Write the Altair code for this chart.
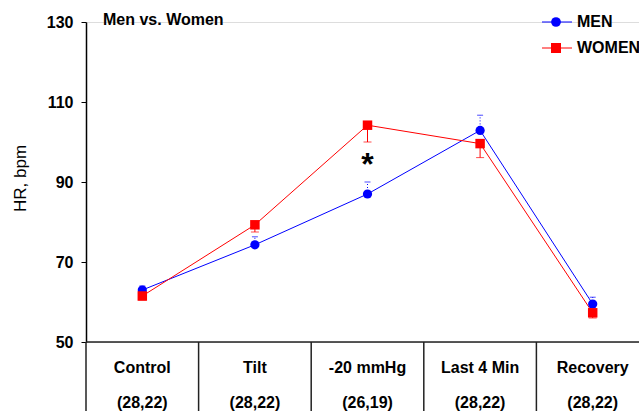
import altair as alt
import pandas as pd

# Heart rate (bpm) by stage of the protocol, men vs. women
categories = ["Control", "Tilt", "-20 mmHg", "Last 4 Min", "Recovery"]
counts = ["(28,22)", "(28,22)", "(26,19)", "(28,22)", "(28,22)"]
men_hr = [63.0, 74.3, 87.0, 102.9, 59.5]
men_se = [1.0, 2.0, 3.0, 3.8, 1.7]
women_hr = [61.5, 79.3, 104.2, 99.6, 57.3]
women_se = [1.0, 1.8, 4.2, 3.5, 1.3]
sig_stage = ["-20 mmHg"]
sig_level = [91.8]

FONT = "Liberation Sans"
BLUE = "#0000ff"
RED = "#ff0000"

idx = list(range(len(categories)))
men = pd.DataFrame({"i": idx, "stage": categories, "hr": men_hr,
                    "hi": [v + e for v, e in zip(men_hr, men_se)]})
women = pd.DataFrame({"i": idx, "stage": categories, "hr": women_hr,
                      "lo": [v - e for v, e in zip(women_hr, women_se)]})
labels = pd.DataFrame({"i": idx, "stage": categories, "n": counts})
bounds = pd.DataFrame({"b": [k - 0.5 for k in range(len(categories) + 1)]})
sig = pd.DataFrame({"i": [categories.index(s) for s in sig_stage], "y": sig_level})

xs = alt.Scale(domain=[-0.5, len(categories) - 0.5], range=[0, 563])
ys = alt.Scale(domain=[50, 130])
X = alt.X("i:Q", scale=xs, axis=None)
Y = alt.Y("hr:Q", scale=ys, axis=alt.Axis(
    values=[50, 70, 90, 110, 130], grid=False, domainColor="black",
    domainWidth=1.5, tickColor="black", tickSize=5, labelPadding=8,
    labelFont=FONT, labelFontSize=16, labelFontWeight="bold", labelColor="black",
    title="HR, bpm", titleFont=FONT, titleFontSize=17, titleFontWeight="normal",
    titleColor="black", titleAngle=-90, titleX=-66, titleY=156,
    titleAlign="center", titleBaseline="middle"))

# frame of the stage table below the plot
base_line = alt.Chart(bounds).mark_rule(color="#222", strokeWidth=1.5).encode(
    x=alt.X("min(b):Q", scale=xs, axis=None), x2="max(b):Q",
    y=alt.value(320))
dividers = alt.Chart(bounds).mark_rule(color="#222", strokeWidth=1.5).encode(
    x=alt.X("b:Q", scale=xs, axis=None), y=alt.value(320), y2=alt.value(389))
stage_txt = alt.Chart(labels).mark_text(
    font=FONT, fontSize=16, fontWeight="bold", color="black", baseline="alphabetic"
).encode(x=X, y=alt.value(351), text="stage:N")
count_txt = alt.Chart(labels).mark_text(
    font=FONT, fontSize=16, fontWeight="bold", color="black", baseline="alphabetic"
).encode(x=X, y=alt.value(386), text="n:N")

# men: dotted upward error bars, line, circles
men_err = alt.Chart(men).mark_rule(color=BLUE, strokeWidth=1, strokeDash=[1, 2]).encode(
    x=X, y=alt.Y("hr:Q", scale=ys), y2="hi:Q")
men_cap = alt.Chart(men).mark_tick(color=BLUE, orient="horizontal", size=6,
                                   thickness=1, strokeDash=[1, 2]).encode(
    x=X, y=alt.Y("hi:Q", scale=ys))
men_line = alt.Chart(men).mark_line(color=BLUE, strokeWidth=1).encode(x=X, y=Y)
men_pts = alt.Chart(men).mark_point(shape="circle", filled=True, opacity=1,
                                    color=BLUE, size=85).encode(x=X, y=alt.Y("hr:Q", scale=ys))

# women: solid downward error bars, line, squares
women_err = alt.Chart(women).mark_rule(color=RED, strokeWidth=1).encode(
    x=X, y=alt.Y("hr:Q", scale=ys), y2="lo:Q")
women_cap = alt.Chart(women).mark_tick(color=RED, orient="horizontal", size=8,
                                       thickness=1).encode(
    x=X, y=alt.Y("lo:Q", scale=ys))
women_line = alt.Chart(women).mark_line(color=RED, strokeWidth=1).encode(
    x=X, y=alt.Y("hr:Q", scale=ys))
women_pts = alt.Chart(women).mark_point(shape="square", filled=True, opacity=1,
                                        color=RED, size=90).encode(
    x=X, y=alt.Y("hr:Q", scale=ys))

star = alt.Chart(sig).mark_text(text="*", font=FONT, fontSize=32, fontWeight="bold",
                                color="black", baseline="alphabetic").encode(
    x=X, y=alt.Y("y:Q", scale=ys))

title = alt.Chart(labels).transform_filter("datum.i == 0").mark_text(
    text="Men vs. Women", font=FONT, fontSize=16, fontWeight="bold", color="black",
    align="left", baseline="alphabetic").encode(x=alt.value(17), y=alt.value(3))

# legend
def legend_row(name, color, shape, size, ypx):
    row = alt.Chart(labels).transform_filter("datum.i == 0")
    ln = row.mark_rule(color=color, strokeWidth=1).encode(
        x=alt.value(456), x2=alt.value(486), y=alt.value(ypx))
    pt = row.mark_point(shape=shape, filled=True, opacity=1, color=color, size=size).encode(
        x=alt.value(470), y=alt.value(ypx))
    tx = row.mark_text(text=name, font=FONT, fontSize=16, fontWeight="bold", color="black",
                       align="left", baseline="middle").encode(
        x=alt.value(491), y=alt.value(ypx))
    return ln + pt + tx

legend = legend_row("MEN", BLUE, "circle", 95, 0) + legend_row("WOMEN", RED, "square", 100, 26)

chart = alt.layer(
    base_line, dividers, stage_txt, count_txt,
    men_err, men_cap, men_line, women_err, women_cap, women_line,
    men_pts, women_pts, star, title, legend
).properties(
    width=553, height=320,
    autosize=alt.AutoSizeParams(type="none"),
    padding={"left": 86, "top": 22, "right": 0, "bottom": 69},
).configure_view(stroke=None).configure(background="white")

chart.save("out.html", embed_options={"renderer": "svg", "actions": False})
